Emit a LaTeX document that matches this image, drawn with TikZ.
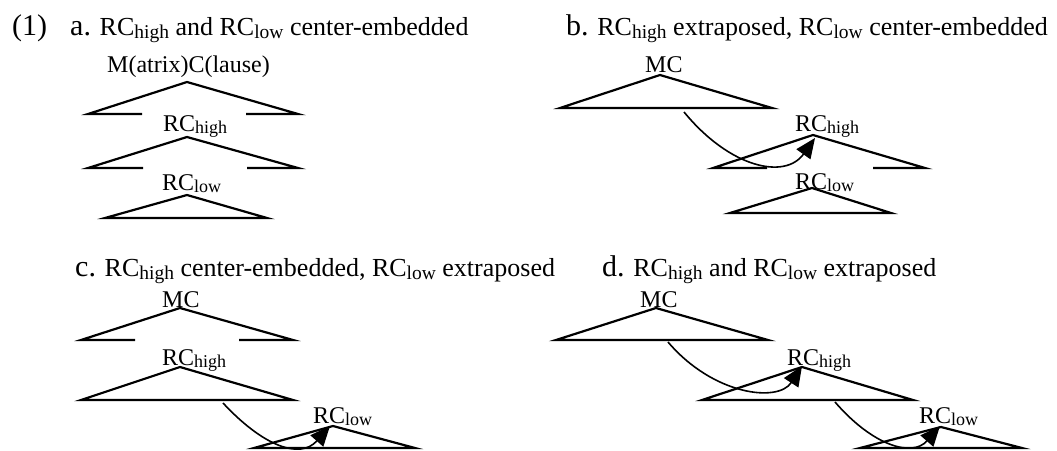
\documentclass[tikz,border=0pt]{standalone}
\usepackage{fontspec}
\setmainfont{Liberation Serif}
\usetikzlibrary{arrows.meta}
\newcommand{\dn}[1]{\raisebox{-0.12em}{\scalebox{0.75}{#1}}}
\newcommand{\fs}[1]{\fontsize{#1}{#1}\selectfont}
\tikzset{
  tri/.style={line width=2.2pt, line join=miter},
  arr/.style={line width=1.6pt, -{Triangle[length=20pt,width=17pt]}},
  title/.style={anchor=base west, inner sep=0pt, font=\fs{26}},
  lab/.style={anchor=base west, inner sep=0pt, font=\fs{24}}
}
\begin{document}
\begin{tikzpicture}[x=1pt,y=-1pt]
\useasboundingbox (0,0) rectangle (1057,450);
% ---------- panel a ----------
\node[title] (n1) at (12,35) {\fs{30}(1)};
\node[title] (ta) at (70,35) {{\fs{30}a.} RC\dn{high} and RC\dn{low} center-embedded};
\node[lab] (aMC) at (107,72) {M(atrix)C(lause)};
\draw[tri] (142,114) -- (88,114) -- (187,82) -- (298,114) -- (246,114);
\node[lab] (aRh) at (163,131) {RC\dn{high}};
\draw[tri] (143,168) -- (88,168) -- (187,137) -- (298,168) -- (247,168);
\node[lab] (aRl) at (162,190) {RC\dn{low}};
\draw[tri] (105,218) -- (187,195) -- (267,218) -- cycle;
% ---------- panel b ----------
\node[title] (tb) at (566,35) {{\fs{30}b.} RC\dn{high} extraposed, RC\dn{low} center-embedded};
\node[lab] (bMC) at (645,72) {MC};
\draw[tri] (560,108) -- (660,75) -- (772,108) -- cycle;
\node[lab] (bRh) at (795,131) {RC\dn{high}};
\draw[tri] (767,168) -- (713,168) -- (813,135) -- (925,168) -- (873,168);
\node[lab] (bRl) at (795,189) {RC\dn{low}};
\draw[tri] (730,213) -- (812,188) -- (891,213) -- cycle;
\coordinate (bs) at (684,112);
\coordinate (be) at (815,138);
\draw[arr] (bs) .. controls (730,168) and (785,180) .. (be);
% ---------- panel c ----------
\node[title] (tc) at (75,276) {{\fs{30}c.} RC\dn{high} center-embedded, RC\dn{low} extraposed};
\node[lab] (cMC) at (162,307) {MC};
\draw[tri] (135,340) -- (81,340) -- (180,308) -- (293,340) -- (239,340);
\node[lab] (cRh) at (162,365) {RC\dn{high}};
\draw[tri] (81,400) -- (180,367) -- (293,400) -- cycle;
\node[lab] (cRl) at (313,423) {RC\dn{low}};
\draw[tri] (254,448) -- (333,426) -- (415,448) -- cycle;
\coordinate (cs) at (223,403);
\coordinate (ce) at (330,426);
\draw[arr] (cs) .. controls (263,446) and (300,460) .. (ce);
% ---------- panel d ----------
\node[title] (td) at (602,276) {{\fs{30}d.} RC\dn{high} and RC\dn{low} extraposed};
\node[lab] (dMC) at (640,307) {MC};
\draw[tri] (556,340) -- (656,308) -- (768,340) -- cycle;
\node[lab] (dRh) at (787,365) {RC\dn{high}};
\draw[tri] (702,400) -- (802,367) -- (913,400) -- cycle;
\node[lab] (dRl) at (919,423) {RC\dn{low}};
\draw[tri] (860,448) -- (941,427) -- (1022,448) -- cycle;
\coordinate (ds1) at (668,342);
\coordinate (de1) at (802,366);
\draw[arr] (ds1) .. controls (713,395) and (778,403) .. (de1);
\coordinate (ds2) at (835,402);
\coordinate (de2) at (940,426);
\draw[arr] (ds2) .. controls (872,445) and (912,458) .. (de2);
\end{tikzpicture}
\end{document}
